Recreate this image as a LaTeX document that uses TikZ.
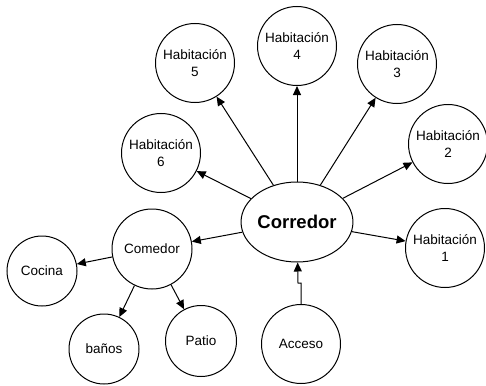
\documentclass[tikz,border=0pt]{standalone}
\usepackage{fontspec}
\setmainfont{Liberation Sans}
\usetikzlibrary{shapes.geometric,arrows.meta}

\begin{document}
\begin{tikzpicture}[x=1pt,y=-1pt,line width=1pt,
  room/.style={draw,circle,inner sep=0pt,minimum size=79pt,align=center,
    font=\fontsize{13.5}{17}\selectfont},
  smallroom/.style={room,minimum size=70pt},
  arr/.style={-{Triangle[length=9pt,width=8pt]}}]
\useasboundingbox (0,0) rectangle (486,385);
  \node[draw,ellipse,inner sep=0pt,minimum width=97pt,minimum height=80pt,
    font=\fontsize{18.5}{20}\selectfont\bfseries] (cor) at (297,222) {Corredor};
  \node[room] (h1) at (445,248) {Habitaci\'on\\1};
  \node[room] (h2) at (448,144) {Habitaci\'on\\2};
  \node[room] (h3) at (397,64) {Habitaci\'on\\3};
  \node[room] (h4) at (297,46) {Habitaci\'on\\4};
  \node[room] (h5) at (195,63) {Habitaci\'on\\5};
  \node[room] (h6) at (161,153) {Habitaci\'on\\6};
  \node[room,minimum size=80pt] (com) at (152,249) {Comedor};
  \node[smallroom] (coc) at (42,271) {Cocina};
  \node[smallroom] (ban) at (104,349) {ba\~nos};
  \node[smallroom,minimum size=71pt] (pat) at (201,341) {Patio};
  \node[room] (acc) at (301,344) {Acceso};
  \draw[arr] (cor) -- (h1);
  \draw[arr] (cor) -- (h2);
  \draw[arr] (cor) -- (h3);
  \draw[arr] (cor) -- (h4);
  \draw[arr] (cor) -- (h5);
  \draw[arr] (cor) -- (h6);
  \draw[arr] (cor) -- (com);
  \draw[arr] (com) -- (coc);
  \draw[arr] (com) -- (ban);
  \draw[arr] (com) -- (pat);
  \draw[arr] (acc.north) -- ++(0,-21) -- ++(-3,0) -- (cor);
\end{tikzpicture}
\end{document}
